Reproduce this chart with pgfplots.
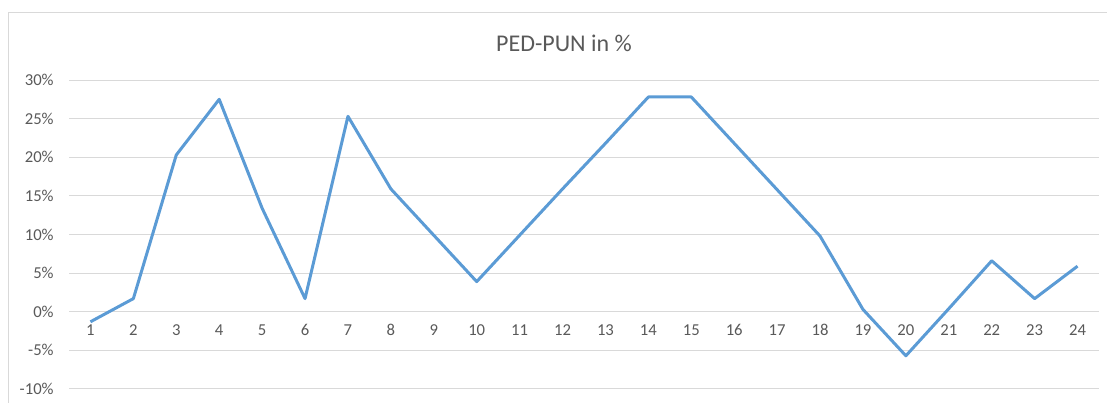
\documentclass[border=0pt]{standalone}
\usepackage{pgfplots}
\pgfplotsset{compat=1.18}
\usepackage{fontspec}
\setmainfont{Carlito}
\definecolor{lineblue}{HTML}{5B9BD5}
\definecolor{gridgray}{HTML}{D9D9D9}
\definecolor{textgray}{HTML}{595959}

\begin{document}
\begin{tikzpicture}[x=0.75pt,y=0.75pt]
\useasboundingbox (0,0) rectangle (1107,403);
% chart area border (cut off at right and bottom)
\draw[gridgray, line width=0.75pt] (8.5,0) -- (8.5,390) -- (1107,390);
\node[textgray, font=\fontsize{18}{20}\selectfont] at (564,360) {PED-PUN in \%};
\begin{axis}[
    at={(51.75pt,10.5pt)}, anchor=south west,
    scale only axis,
    width=772.5pt, height=231.75pt,
    xmin=0.5, xmax=24.5,
    ymin=-10, ymax=30,
    axis x line*=middle,
    axis y line*=left,
    axis line style={draw=none},
    major tick length=0pt,
    xtick={1,...,24},
    ytick={-10,-5,0,5,10,15,20,25,30},
    yticklabels={-10\%,-5\%,0\%,5\%,10\%,15\%,20\%,25\%,30\%},
    ymajorgrids,
    grid style={gridgray, line width=0.75pt},
    tick label style={textgray, font=\fontsize{12.5}{14}\selectfont},
    /pgf/number format/assume math mode=true,
    xticklabel style={yshift=-6pt},
    yticklabel style={xshift=-8pt},
    clip=false,
]
\addplot[lineblue, line width=2.25pt, line join=round] coordinates {
(1,-1.3) (2,1.7) (3,20.3) (4,27.5) (5,13.4) (6,1.7) (7,25.3) (8,15.9)
(9,9.9) (10,3.9) (11,9.9) (12,15.9) (13,21.8) (14,27.8) (15,27.8)
(16,21.8) (17,15.8) (18,9.8) (19,0.3) (20,-5.7) (21,0.4) (22,6.6)
(23,1.7) (24,5.9)
};
\end{axis}
\end{tikzpicture}
\end{document}
